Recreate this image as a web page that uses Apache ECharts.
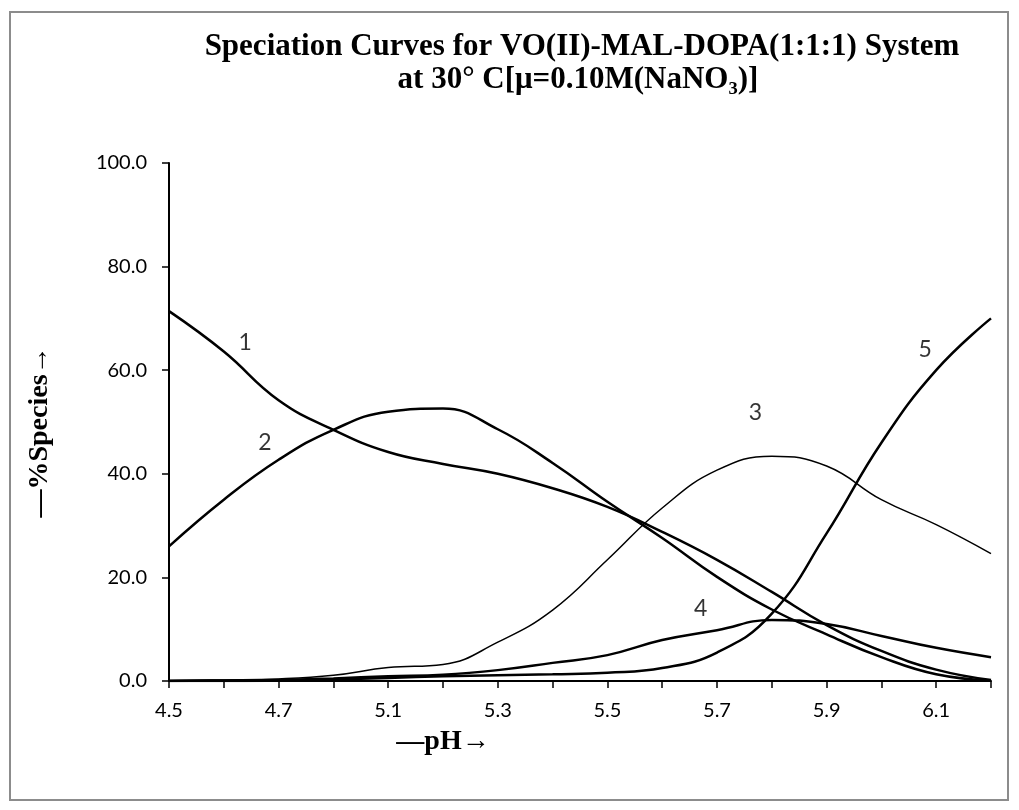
<!DOCTYPE html>
<html>
<head>
<meta charset="utf-8">
<script src="https://cdn.jsdelivr.net/npm/echarts@6/dist/echarts.min.js"></script>
<style>
html,body{margin:0;padding:0;background:#fff;}
#chart{width:1019px;height:810px;}
</style>
</head>
<body>
<div id="chart"></div>
<script>
// Categories (pH) – labels shown on every other category
const pH = ['4.5','4.6','4.7','4.9','5.1','5.2','5.3','5.4','5.5','5.6','5.7','5.8','5.9','6.0','6.1','6.2'];
// % species for each curve
const curve1 = [71.4, 63.6, 54.2, 48.5, 44.2, 41.9, 40.0, 37.2, 33.6, 28.8, 23.4, 17.2, 10.8, 5.8, 2.2, 0.2];
const curve2 = [26.0, 35.0, 42.7, 48.5, 52.0, 52.6, 48.6, 42.1, 34.6, 27.6, 20.1, 13.8, 9.0, 4.6, 1.3, 0.1];
const curve3 = [0.1, 0.2, 0.4, 1.1, 2.6, 3.2, 7.5, 13.7, 23.4, 33.4, 40.7, 43.4, 41.5, 35.0, 30.2, 24.6];
const curve4 = [0.0, 0.1, 0.2, 0.5, 0.9, 1.2, 2.1, 3.5, 5.0, 7.9, 9.8, 11.8, 11.0, 8.7, 6.4, 4.6];
const curve5 = [0.0, 0.0, 0.1, 0.3, 0.6, 0.9, 1.1, 1.3, 1.6, 2.5, 5.5, 13.0, 28.5, 46.0, 60.0, 70.0];
// y-axis ticks
const yMin = 0, yMax = 100, yStep = 20;
// curve number annotations (category index position, % species)
const annoText = ['1', '2', '3', '4', '5'];
const annoX = [1.39, 1.75, 10.7, 9.7, 13.8];
const annoY = [65.3, 46.1, 51.9, 13.9, 64.0];

const chart = echarts.init(document.getElementById('chart'));
const curves = [curve1, curve2, curve3, curve4, curve5];
const widths = [2.5, 2.5, 1.5, 2.5, 2.5];
const series = curves.map((d, i) => ({
  type: 'line',
  name: 'Curve ' + (i + 1),
  data: d,
  smooth: 0.45,
  symbol: 'none',
  lineStyle: { color: '#000', width: widths[i] },
  z: 3
}));
series.push({
  type: 'scatter',
  xAxisIndex: 1,
  symbolSize: 0,
  data: annoX.map((x, i) => [x, annoY[i], annoText[i]]),
  label: {
    show: true,
    position: 'inside',
    formatter: p => p.data[2],
    fontFamily: 'Lato',
    fontSize: 23,
    color: '#000'
  },
  z: 5
});

chart.setOption({
  animation: false,
  backgroundColor: '#fff',
  grid: { left: 169, right: 28, top: 163, bottom: 129 },
  xAxis: [{
    type: 'category',
    data: pH,
    boundaryGap: false,
    axisLine: { lineStyle: { color: '#000', width: 2 } },
    axisTick: { show: true, interval: 0, length: 7, lineStyle: { color: '#000', width: 1.5 } },
    axisLabel: { interval: 1, margin: 20, fontFamily: 'Lato', fontSize: 20, color: '#000' },
    splitLine: { show: false }
  }, {
    type: 'value', min: 0, max: pH.length - 1, show: false
  }],
  yAxis: {
    type: 'value',
    min: yMin, max: yMax, interval: yStep,
    axisLine: { show: true, lineStyle: { color: '#000', width: 2 } },
    axisTick: { show: true, length: 7, lineStyle: { color: '#000', width: 1.5 } },
    axisLabel: { margin: 22, fontFamily: 'Lato', fontSize: 20, color: '#000', formatter: v => v.toFixed(1) },
    splitLine: { show: false }
  },
  graphic: [
    { type: 'rect', shape: { x: 10, y: 12, width: 998, height: 788 }, style: { fill: 'none', stroke: '#8c8c8c', lineWidth: 2 }, z: 0 },
    { type: 'text', x: 582, y: 47, style: { text: 'Speciation Curves for VO(II)-MAL-DOPA(1:1:1) System', textAlign: 'center', textVerticalAlign: 'middle', fontFamily: 'Liberation Serif', fontWeight: 'bold', fontSize: 31, fill: '#000' } },
    { type: 'text', x: 578, y: 80, style: { text: 'at 30° C[μ=0.10M(NaNO₃)]', textAlign: 'center', textVerticalAlign: 'middle', fontFamily: 'Liberation Serif', fontWeight: 'bold', fontSize: 31, fill: '#000' } },
    { type: 'text', x: 40, y: 432, rotation: Math.PI / 2, style: { text: '—%Species→', textAlign: 'center', textVerticalAlign: 'middle', fontFamily: 'Liberation Serif', fontWeight: 'bold', fontSize: 28, fill: '#000' } },
    { type: 'text', x: 443, y: 742, style: { text: '—pH→', textAlign: 'center', textVerticalAlign: 'middle', fontFamily: 'Liberation Serif', fontWeight: 'bold', fontSize: 28, fill: '#000' } }
  ],
  series: series
});
</script>
</body>
</html>
